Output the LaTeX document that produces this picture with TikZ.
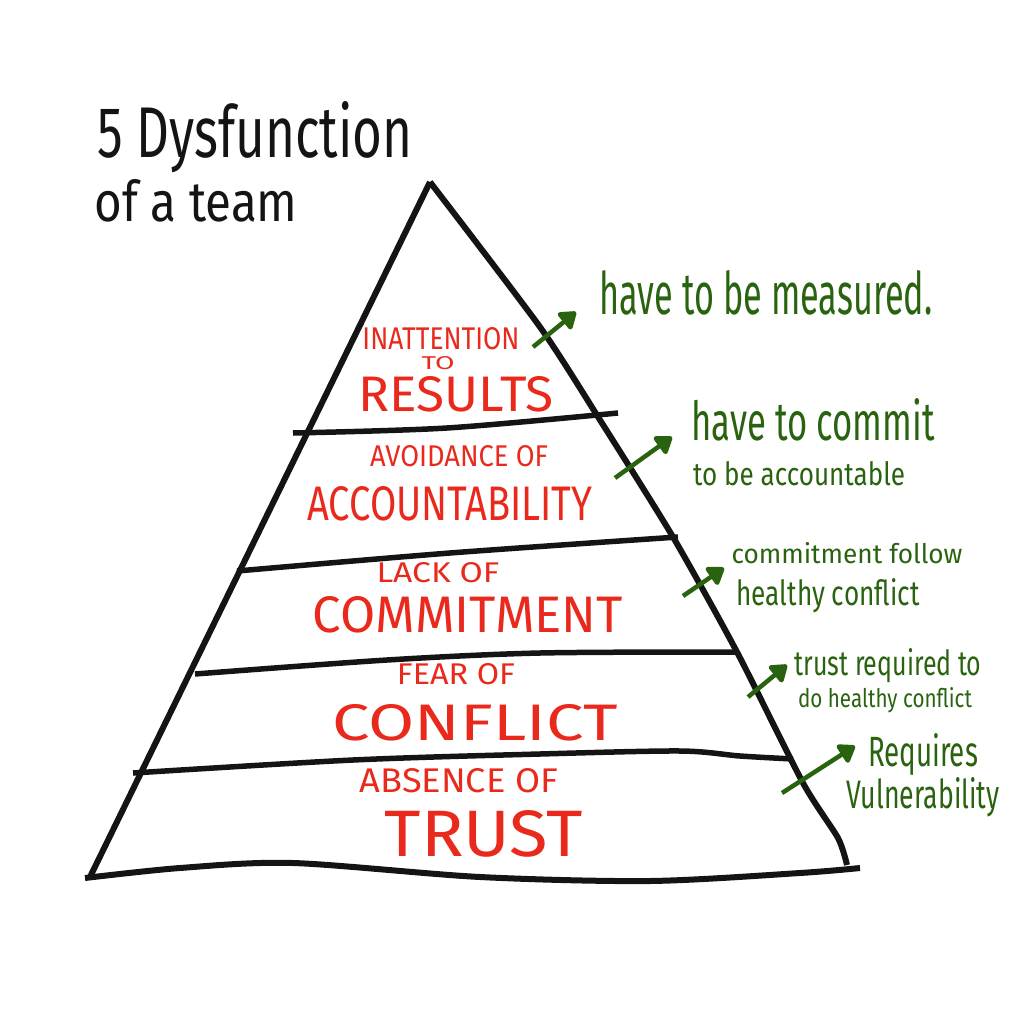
\documentclass[tikz,border=0pt]{standalone}
\usepackage{fontspec}
\setmainfont{Fira Sans}
\usetikzlibrary{arrows.meta}
\definecolor{pyrred}{HTML}{E8291C}
\definecolor{notegreen}{HTML}{2A6310}
\definecolor{inkblack}{HTML}{141414}
\def\mylw{6pt}
\newcommand\fitto[3]{\resizebox{#1pt}{#2pt}{#3}}
\tikzset{
line cap=round, line join=round, % hand drawn look
ink/.style={draw=inkblack,line width=\mylw},
band/.style={ink,line width=5.5pt},
title/.style={text=inkblack,inner sep=0pt,anchor=base},
layer/.style={text=pyrred,inner sep=0pt,anchor=base},
note/.style={text=notegreen,inner sep=0pt,anchor=base},
note arrow/.style={draw=notegreen,line width=4.5pt,
  -{Triangle[round,length=18pt,width=24pt]}},
}
\begin{document}
\begin{tikzpicture}[x=1pt,y=-1pt]
\useasboundingbox (0,0) rectangle (1024,1024);
% title
\node[title] (five) at (255,158) {\fitto{315}{56}{5 Dysfunction}};
\node[title] (team) at (196,222) {\fitto{203}{42}{of a team}};
% pyramid
\coordinate (apex) at (430,182);
\coordinate (bl) at (90,877);
\coordinate (br) at (847,865);
\draw[ink] (apex) -- (bl);
\draw[ink] plot[smooth,tension=0.4] coordinates
  {(430,182) (540,327) (600,420) (673,537) (737,652) (803,783) (838,838) (847,865)};
\draw[band] plot[smooth] coordinates {(293,433) (447,428) (618,413)};
\draw[band] plot[smooth] coordinates {(237,571) (450,553) (678,537)};
\draw[band] plot[smooth] coordinates {(195,674) (387,660) (540,653) (737,652)};
\draw[band] plot[smooth] coordinates {(133,773) (353,760) (540,754) (680,751) (740,756) (793,759)};
\draw[ink] plot[smooth] coordinates {(85,878) (180,868) (293,863) (480,877) (650,881) (800,873) (860,868)};
% layers
\node[layer] (inatt) at (441,349) {\fitto{157}{22}{INATTENTION}};
\node[layer] (to) at (438,369) {\fitto{33}{13}{TO}};
\node[layer] (results) at (456,411) {\fitto{195}{35}{RESULTS}};
\node[layer] (avoid) at (459,466) {\fitto{178}{21}{AVOIDANCE OF}};
\node[layer] (account) at (450,520) {\fitto{285}{34}{ACCOUNTABILITY}};
\node[layer] (lack) at (438,582) {\fitto{123}{20}{LACK OF}};
\node[layer] (commit) at (468,632) {\fitto{310}{36}{COMMITMENT}};
\node[layer] (fear) at (456,684) {\fitto{118}{21}{FEAR OF}};
\node[layer] (conflict) at (475,740) {\fitto{285}{36}{CONFLICT}};
\node[layer] (absence) at (459,792) {\fitto{198}{24}{ABSENCE OF}};
\node[layer] (trust) at (484,856) {\fitto{198}{46}{TRUST}};
% notes
\node[note] (measured) at (766,314) {\fitto{333}{44}{have to be measured.}};
\node[note] (havecommit) at (813,440) {\fitto{243}{42}{have to commit}};
\node[note] (accountable) at (799,485) {\fitto{212}{24}{to be accountable}};
\node[note] (follow) at (847,563) {\fitto{231}{21}{commitment follow}};
\node[note] (healthy) at (828,605) {\fitto{183}{27}{healthy conflict}};
\node[note] (required) at (888,675) {\fitto{187}{27}{trust required to}};
\node[note] (dohealthy) at (885,707) {\fitto{174}{20}{do healthy conflict}};
\node[note] (requires) at (923,766) {\fitto{110}{33}{Requires}};
\node[note] (vulner) at (923,808) {\fitto{153}{31}{Vulnerability}};
% arrows
\coordinate (r1) at (533,347); \coordinate (n1) at (576,312);
\coordinate (r2) at (615,478); \coordinate (n2) at (672,437);
\coordinate (r3) at (683,596); \coordinate (n3) at (724,568);
\coordinate (r4) at (748,697); \coordinate (n4) at (787,665);
\coordinate (r5) at (782,793); \coordinate (n5) at (855,746);
\foreach \i in {1,...,5}
  \draw[note arrow] (r\i) -- (n\i);
\end{tikzpicture}
\end{document}
